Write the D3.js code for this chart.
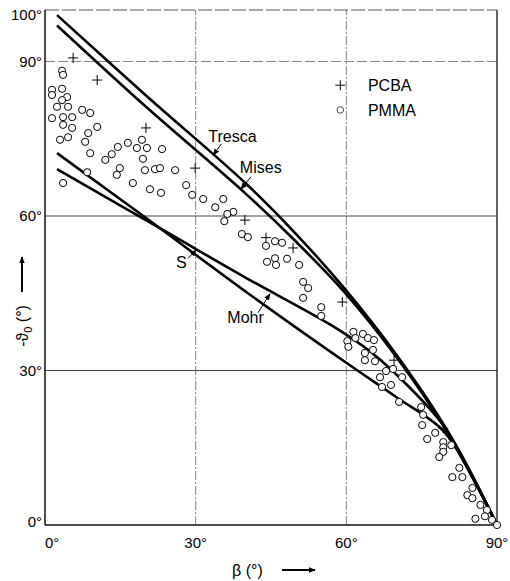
<!DOCTYPE html>
<html lang="en">
<head>
<meta charset="utf-8">
<title>Fracture angle vs beta</title>
<script src="https://d3js.org/d3.v7.min.js"></script>
<style>
  body { margin: 0; background: #fff; }
  svg { width: 510px; height: 581px; font-family: "Liberation Sans", Arial, sans-serif; }
  .tick { font-size: 15px; }
  .lbl { font-size: 16px; }
  .curve { fill: none; stroke: #000; stroke-width: 2.6px; }
</style>
</head>
<body>
<svg></svg>
<script>
// theory curves, [beta, -theta0] in degrees
const tresca = [[2.4,99],[20,83.5],[40,66.3],[50,56.5],[60,45.5],[70,33],[80,18.5],[90,0]];
const mises  = [[2.4,97],[20,81.3],[40,64.3],[50,55],[60,44.8],[70,32.6],[80,18.2],[90,0]];
const sCurve = [[2.4,72.2],[20,59.7],[40,45.3],[60,31.5],[70,24.8],[79.3,18.3],[85,9.5],[90,0]];
const mohr   = [[2.4,69.1],[24,57],[40,48],[57,38.8],[65,33.5],[72.5,26.8],[79.3,19.4],[85,9.8],[90,0]];

// measured points
const pcba = [[5.6,90.7],[10.4,86.4],[20.1,77.1],[29.9,69.3],[39.8,59.2],[44,55.8],[49.4,53.8],[59.2,43.3],[69.5,32],[79.3,18.8]];
const pmma = [
  [3.4,88.2],[3.6,87.4],[1.4,84.5],[3.4,84.7],[1.4,83.5],[4.4,83.1],[3.4,82.5],[2.4,81.2],[4.6,81.2],[7.4,80.6],
  [9.0,80.0],[1.4,79.0],[3.6,79.2],[5.4,79.2],[3.6,77.7],[5.4,77.1],[10.4,77.3],[4.6,75.3],[3.0,74.8],[8.0,74.4],
  [8.6,76.1],[9.0,72.2],[12.0,70.9],[13.3,72.0],[14.5,73.4],[16.5,74.2],[18.3,73.2],[19.3,74.8],[20.3,73.2],[19.5,71.1],
  [21.9,69.1],[19.9,68.9],[22.9,69.3],[23.3,73.0],[25.9,68.9],[14.3,68.0],[14.9,69.3],[8.4,68.5],[17.5,66.4],[20.9,65.2],
  [23.1,64.5],[3.6,66.4],[28.1,66.0],[29.3,64.1],[31.5,63.3],[33.9,61.7],[35.5,63.3],[37.5,60.8],[36.3,60.4],[35.7,59.0],
  [39.2,56.5],[40.4,55.9],[44.0,54.2],[45.8,55.1],[47.2,54.8],[44.2,51.1],[45.8,51.8],[46.0,50.5],[48.2,51.7],[50.6,50.5],
  [51.4,47.2],[52.4,46.0],[51.4,44.1],[55.0,42.3],[55.0,40.6],[61.4,37.5],[63.3,37.1],[64.3,36.3],[65.5,35.9],[60.2,35.7],
  [60.4,34.6],[61.8,36.3],[63.7,33.4],[65.3,34.0],[63.7,32.0],[65.7,31.8],[67.9,29.9],[69.3,30.3],[71.1,28.7],[66.7,28.7],
  [68.9,27.2],[67.1,26.8],[70.5,23.9],[74.9,22.9],[75.3,21.4],[75.1,19.4],[77.7,17.9],[76.1,16.7],[79.3,16.1],[79.3,15.1],
  [80.9,15.5],[79.3,14.2],[78.5,13.2],[82.5,11.1],[81.1,9.3],[83.1,9.3],[85.1,7.2],[84.1,5.8],[85.1,5.2],[86.7,3.9],
  [88.0,2.9],[87.6,1.7],[85.7,1.2],[89.0,1.0],[90.0,0]
];

const xTicks = [0, 30, 60, 90];
const yTicks = [0, 30, 60, 90, 100];
const xGrid = [30, 60];
const yGrid = [30, 60, 90];

// curve names with label anchor and arrow (data units)
const curveLabels = [
  {name: "Tresca", tx: 32.5, ty: 74.4, x1: 35.1, y1: 74.0, x2: 33.5, y2: 71.8},
  {name: "Mises",  tx: 38.8, ty: 68.3, x1: 41.0, y1: 67.6, x2: 39.0, y2: 65.2},
  {name: "S",      tx: 26.1, ty: 49.9, x1: 28.5, y1: 51.8, x2: 30.1, y2: 53.4},
  {name: "Mohr",   tx: 36.3, ty: 39.2, x1: 42.4, y1: 41.2, x2: 44.8, y2: 44.9}
];

const svg = d3.select("svg");
const x = d3.scaleLinear().domain([0, 90]).range([45, 497]);
const y = d3.scaleLinear().domain([0, 100]).range([525, 10]);

svg.append("defs").append("marker")
   .attr("id", "ah").attr("viewBox", "0 0 10 10")
   .attr("refX", 9).attr("refY", 5)
   .attr("markerWidth", 7).attr("markerHeight", 7)
   .attr("markerUnits", "userSpaceOnUse")
   .attr("orient", "auto")
   .append("path").attr("d", "M0,1 L10,5 L0,9 Z").attr("fill", "#000");

// grid
svg.selectAll(".vg").data(xGrid).enter().append("line")
   .attr("x1", d => x(d)).attr("x2", d => x(d))
   .attr("y1", y(0)).attr("y2", y(100))
   .attr("stroke", "#666").attr("stroke-width", 0.8).attr("stroke-dasharray", "9,2,2,2");
svg.selectAll(".hg").data(yGrid).enter().append("line")
   .attr("x1", x(0)).attr("x2", x(90))
   .attr("y1", d => y(d)).attr("y2", d => y(d))
   .attr("stroke", d => d === 90 ? "#666" : "#444")
   .attr("stroke-width", d => d === 90 ? 0.8 : 1)
   .attr("stroke-dasharray", d => d === 90 ? "10,3" : null);

// frame
svg.append("line").attr("x1", x(0)).attr("x2", x(90)).attr("y1", y(100)).attr("y2", y(100))
   .attr("stroke", "#555").attr("stroke-width", 1).attr("stroke-dasharray", "14,3");
svg.append("line").attr("x1", x(90)).attr("x2", x(90)).attr("y1", y(100)).attr("y2", y(0))
   .attr("stroke", "#111").attr("stroke-width", 1.3);
svg.append("line").attr("x1", x(0)).attr("x2", x(0)).attr("y1", y(100)).attr("y2", y(0))
   .attr("stroke", "#111").attr("stroke-width", 1.5);
svg.append("line").attr("x1", x(0)).attr("x2", x(90)).attr("y1", y(0)).attr("y2", y(0))
   .attr("stroke", "#111").attr("stroke-width", 1.6);

// tick labels
svg.selectAll(".yt").data(yTicks).enter().append("text")
   .attr("class", "tick")
   .attr("x", x(0) - 3)
   .attr("y", d => d === 100 ? y(d) + 10 : (d === 0 ? y(d) + 2 : y(d) + 5))
   .attr("text-anchor", "end")
   .text(d => d + "°");
svg.selectAll(".xt").data(xTicks).enter().append("text")
   .attr("class", "tick")
   .attr("x", d => x(d))
   .attr("y", y(0) + 23)
   .attr("text-anchor", d => d === 0 ? "start" : "middle")
   .text(d => d + "°");

// curves
const line = d3.line().x(d => x(d[0])).y(d => y(d[1])).curve(d3.curveCatmullRom.alpha(0.5));
[tresca, mises, sCurve, mohr].forEach(c => {
  svg.append("path").attr("class", "curve").attr("d", line(c));
});

// points
svg.selectAll(".pm").data(pmma).enter().append("circle")
   .attr("cx", d => x(d[0])).attr("cy", d => y(d[1])).attr("r", 3.6)
   .attr("fill", "#fff").attr("stroke", "#000").attr("stroke-width", 1);

svg.selectAll(".pc").data(pcba).enter().append("path")
   .attr("transform", d => "translate(" + x(d[0]) + "," + y(d[1]) + ")")
   .attr("d", "M-5,0H5M0,-5V5")
   .attr("stroke", "#000").attr("stroke-width", 1);

// curve labels
curveLabels.forEach(c => {
  svg.append("text").attr("class", "lbl").attr("x", x(c.tx)).attr("y", y(c.ty)).text(c.name);
  svg.append("line").attr("x1", x(c.x1)).attr("y1", y(c.y1)).attr("x2", x(c.x2)).attr("y2", y(c.y2))
     .attr("stroke", "#000").attr("stroke-width", 1).attr("marker-end", "url(#ah)");
});

// legend
const lg = svg.append("g");
lg.append("path").attr("d", "M-5,0H5M0,-5V5")
  .attr("transform", "translate(" + x(58.8) + "," + y(85.4) + ")")
  .attr("stroke", "#000").attr("stroke-width", 1);
lg.append("circle").attr("cx", x(58.8)).attr("cy", y(80.6)).attr("r", 3.3)
  .attr("fill", "#fff").attr("stroke", "#333").attr("stroke-width", 0.9);
lg.append("text").attr("class", "lbl").attr("x", x(64.3)).attr("y", y(85.4) + 6).text("PCBA");
lg.append("text").attr("class", "lbl").attr("x", x(64.3)).attr("y", y(80.6) + 6).text("PMMA");

// axis titles
const yt = svg.append("text").attr("class", "lbl")
   .attr("transform", "translate(28,326) rotate(-90)")
   .attr("text-anchor", "middle");
yt.append("tspan").text("-ϑ");
yt.append("tspan").attr("font-size", "11px").attr("dy", 4).text("0");
yt.append("tspan").attr("dy", -4).text(" (°)");
svg.append("line").attr("x1", 22).attr("x2", 22).attr("y1", 292).attr("y2", 257)
   .attr("stroke", "#000").attr("stroke-width", 2).attr("marker-end", "url(#ah)");

svg.append("text").attr("class", "lbl").attr("x", 232).attr("y", 576).text("β (°)");
svg.append("line").attr("x1", 282).attr("x2", 315).attr("y1", 570).attr("y2", 570)
   .attr("stroke", "#000").attr("stroke-width", 2).attr("marker-end", "url(#ah)");
</script>
</body>
</html>
